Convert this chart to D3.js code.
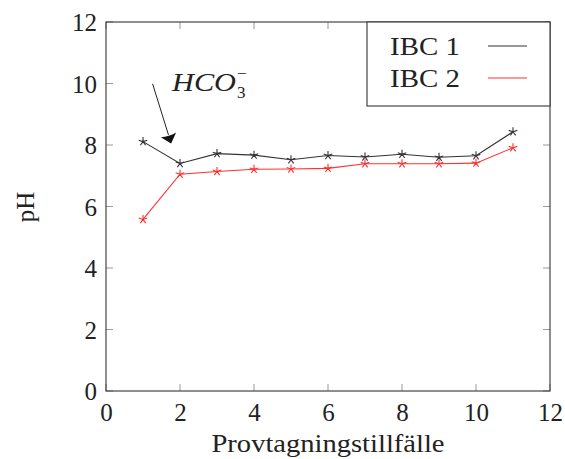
<!DOCTYPE html>
<html>
<head>
<meta charset="utf-8">
<script src="https://cdn.jsdelivr.net/npm/d3@7"></script>
<style>
  html, body { margin: 0; padding: 0; background: #fff; }
</style>
</head>
<body>
<svg id="chart" width="565" height="459"></svg>
<script>
// Sampling occasions and measured pH per IBC tank
const occasions = [1, 2, 3, 4, 5, 6, 7, 8, 9, 10, 11];
const ibc1 = [8.11, 7.40, 7.72, 7.67, 7.52, 7.66, 7.61, 7.70, 7.60, 7.65, 8.43];
const ibc2 = [5.58, 7.05, 7.14, 7.21, 7.22, 7.24, 7.39, 7.39, 7.39, 7.41, 7.91];
const seriesNames = ["IBC 1", "IBC 2"];
const seriesColors = ["#333333", "#ff3030"];
const xTicks = [0, 2, 4, 6, 8, 10, 12];
const yTicks = [0, 2, 4, 6, 8, 10, 12];
// Annotation arrow (data units): tail and tip
const arrowFrom = [1.26, 9.99];
const arrowTo = [1.76, 8.05];

const FONT = "Liberation Serif";
const INK = "#222";

const svg = d3.select("#chart");
const pLeft = 106, pRight = 550, pTop = 22, pBottom = 391;

const x = d3.scaleLinear().domain([0, 12]).range([pLeft, pRight]);
const y = d3.scaleLinear().domain([0, 12]).range([pBottom, pTop]);

const tickLen = 7;

// Inward ticks on all four sides
const g = svg.append("g");
xTicks.forEach(t => {
  g.append("line").attr("x1", x(t)).attr("x2", x(t)).attr("y1", pBottom).attr("y2", pBottom - tickLen)
    .attr("stroke", "#999").attr("stroke-width", 1);
  g.append("line").attr("x1", x(t)).attr("x2", x(t)).attr("y1", pTop).attr("y2", pTop + tickLen)
    .attr("stroke", "#999").attr("stroke-width", 1);
});
yTicks.forEach(t => {
  g.append("line").attr("x1", pLeft).attr("x2", pLeft + tickLen).attr("y1", y(t)).attr("y2", y(t))
    .attr("stroke", "#999").attr("stroke-width", 1);
  g.append("line").attr("x1", pRight).attr("x2", pRight - tickLen).attr("y1", y(t)).attr("y2", y(t))
    .attr("stroke", "#999").attr("stroke-width", 1);
});

// Tick labels via d3 axes (tick marks hidden, labels only)
const xAxis = d3.axisBottom(x).tickValues(xTicks).tickSize(0).tickPadding(12).tickFormat(d3.format("d"));
const yAxis = d3.axisLeft(y).tickValues(yTicks).tickSize(0).tickPadding(9).tickFormat(d3.format("d"));
const gx = svg.append("g").attr("transform", `translate(0,${pBottom})`).call(xAxis);
const gy = svg.append("g").attr("transform", `translate(${pLeft},0)`).call(yAxis);
[gx, gy].forEach(a => {
  a.attr("font-family", FONT).attr("font-size", 25);
  a.select(".domain").remove();
  a.selectAll("text").attr("font-family", FONT).attr("font-size", 25).attr("fill", INK);
});
gx.selectAll("text").attr("dy", "0.71em");
gy.selectAll("text").attr("dy", "0.35em");

// Frame
svg.append("rect").attr("x", pLeft).attr("y", pTop).attr("width", pRight - pLeft).attr("height", pBottom - pTop)
  .attr("fill", "none").attr("stroke", "#333").attr("stroke-width", 1.1);

const txt = (sel, size) => sel.attr("font-family", FONT).attr("font-size", size).attr("fill", INK);

// Axis titles
txt(svg.append("text"), 25).attr("x", (pLeft + pRight) / 2).attr("y", 452).attr("text-anchor", "middle")
  .attr("textLength", 233).attr("lengthAdjust", "spacingAndGlyphs")
  .text("Provtagningstillfälle");
txt(svg.append("text"), 25).attr("transform", "translate(34,207) rotate(-90)").attr("text-anchor", "middle")
  .text("pH");

// Series lines and star markers
const line = d3.line().x((d, i) => x(occasions[i])).y(d => y(d));
const star = r => {
  let p = "";
  for (let k = 0; k < 5; k++) {
    const a = -Math.PI / 2 + k * 2 * Math.PI / 5;
    p += `M0,0L${(r * Math.cos(a)).toFixed(2)},${(r * Math.sin(a)).toFixed(2)}`;
  }
  return p;
};
[ibc1, ibc2].forEach((vals, s) => {
  svg.append("path").datum(vals).attr("d", line).attr("fill", "none")
    .attr("stroke", seriesColors[s]).attr("stroke-width", 1.1);
  svg.append("g").selectAll("path").data(vals).join("path")
    .attr("transform", (d, i) => `translate(${x(occasions[i])},${y(d)})`)
    .attr("d", star(4.5)).attr("fill", "none")
    .attr("stroke", seriesColors[s]).attr("stroke-width", 1.1);
});

// Annotation: arrow with filled triangular head
const ax1 = x(arrowFrom[0]), ay1 = y(arrowFrom[1]);
const ax2 = x(arrowTo[0]), ay2 = y(arrowTo[1]);
const len = Math.hypot(ax2 - ax1, ay2 - ay1);
const ux = (ax2 - ax1) / len, uy = (ay2 - ay1) / len;
const headLen = 9, headHalf = 8;
const bx = ax2 - ux * headLen, by = ay2 - uy * headLen;
svg.append("line").attr("x1", ax1).attr("y1", ay1).attr("x2", bx).attr("y2", by)
  .attr("stroke", "#222").attr("stroke-width", 1);
svg.append("path")
  .attr("d", `M${ax2},${ay2}L${bx - uy * headHalf},${by + ux * headHalf}Q${bx + ux * 2},${by + uy * 2} ${bx + uy * headHalf},${by - ux * headHalf}Z`)
  .attr("fill", "#111");

// Bicarbonate label: base, subscript and charge
txt(svg.append("text"), 26).attr("x", 172).attr("y", 91).attr("font-style", "italic")
  .attr("textLength", 64).attr("lengthAdjust", "spacingAndGlyphs").text("HCO");
txt(svg.append("text"), 17).attr("x", 237).attr("y", 98).text("3");
txt(svg.append("text"), 17).attr("x", 237).attr("y", 79).text("−");

// Legend
const lg = svg.append("g");
lg.append("rect").attr("x", 367).attr("y", pTop).attr("width", pRight - 367).attr("height", 84)
  .attr("fill", "#fff").attr("stroke", "#333").attr("stroke-width", 1.1);
seriesNames.forEach((name, i) => {
  const yy = 55 + i * 32;
  txt(lg.append("text"), 25).attr("x", 390).attr("y", yy)
    .attr("textLength", 70).attr("lengthAdjust", "spacingAndGlyphs").text(name);
  lg.append("line").attr("x1", 488).attr("x2", 527).attr("y1", yy - 9).attr("y2", yy - 9)
    .attr("stroke", seriesColors[i]).attr("stroke-width", 1.1);
});
</script>
</body>
</html>
